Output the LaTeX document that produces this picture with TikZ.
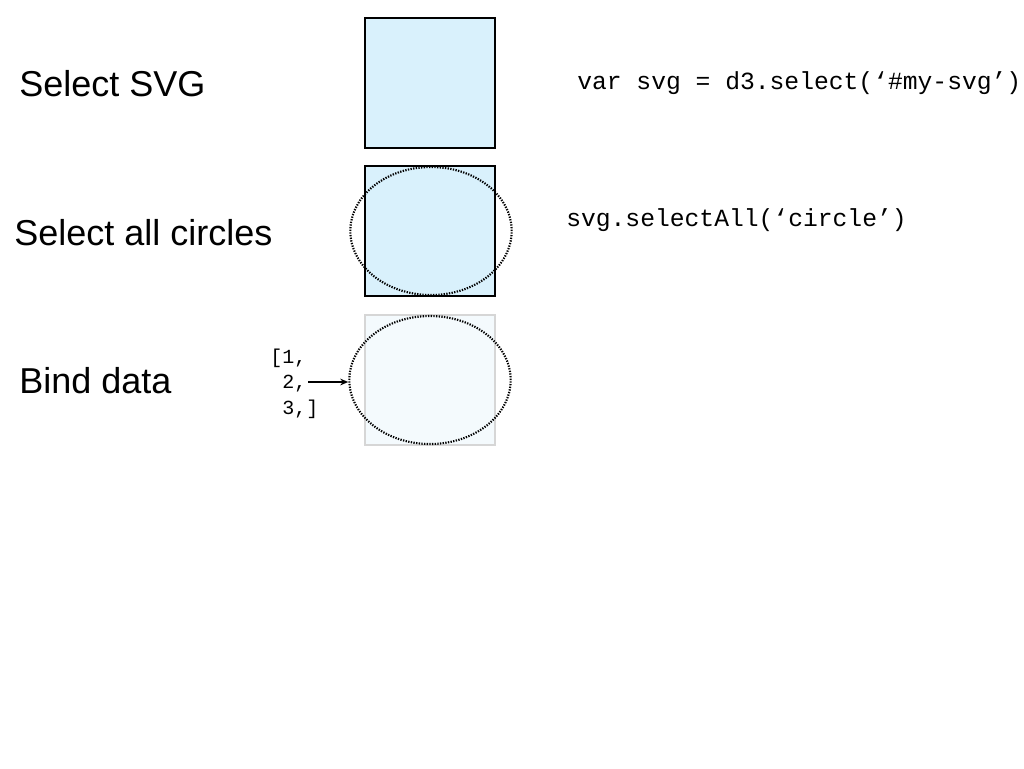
\documentclass[tikz,border=0pt]{standalone}
\usepackage{fontspec}
\setmainfont{Liberation Sans}
\setmonofont{Liberation Mono}
\usepackage{tikz}
\usetikzlibrary{arrows.meta, positioning, shapes.geometric}

\definecolor{boxblue}{HTML}{D9F1FC}
\definecolor{paleblue}{HTML}{F4FAFD}
\definecolor{palegray}{HTML}{D6D6D6}

\begin{document}
\begin{tikzpicture}[
    x=0.75pt, y=-0.75pt,
    svg_box/.style={rectangle, draw=black, line width=1.4pt, fill=boxblue, minimum width=97.5pt, minimum height=97.5pt, inner sep=0pt},
    faded_box/.style={rectangle, draw=palegray, line width=1pt, fill=paleblue, minimum width=97.5pt, minimum height=97.5pt, inner sep=0pt},
    circle_sel/.style={ellipse, draw=black, line width=1.6pt, dash pattern=on 1pt off 1pt, minimum width=121pt, minimum height=96pt, inner sep=0pt},
    step_label/.style={anchor=west, inner sep=0pt, font=\fontsize{27}{31}\selectfont},
    code_text/.style={anchor=west, inner sep=0pt, font=\ttfamily\fontsize{18.5}{21}\selectfont},
    data_text/.style={anchor=west, inner sep=0pt, font=\ttfamily\fontsize{15}{18}\selectfont},
    edge/.style={-{Stealth[length=6pt, width=5pt]}, line width=1pt, color=black}
]
\useasboundingbox (0,0) rectangle (1024,768);

% Labels
\node[step_label] (L1) at (19, 84) {Select SVG};
\node[step_label] (L2) at (14, 233) {Select all circles};
\node[step_label] (L3) at (19, 381) {Bind data};

% Boxes
\node[svg_box] (B1) at (430, 83) {};
\node[svg_box] (B2) at (430, 231) {};
\node[faded_box] (B3) at (430, 380) {};

% Circles
\node[circle_sel] (C2) at (431, 231) {};
\node[circle_sel] (C3) at (430, 380) {};

% Code
\node[code_text] (K1) at (577, 83) {var svg = d3.select(‘\#my-svg’)};
\node[code_text] (K2) at (566, 220) {svg.selectAll(‘circle’)};

% Data
\node[data_text] (D1) at (270, 358) {[1,};
\node[data_text] (D2) at (270, 383) {\phantom{[}2,};
\node[data_text] (D3) at (270, 409) {\phantom{[}3,]};

\coordinate (A0) at (308, 382);
\draw[edge] (A0) -- (A0 -| C3.west);

\end{tikzpicture}
\end{document}
